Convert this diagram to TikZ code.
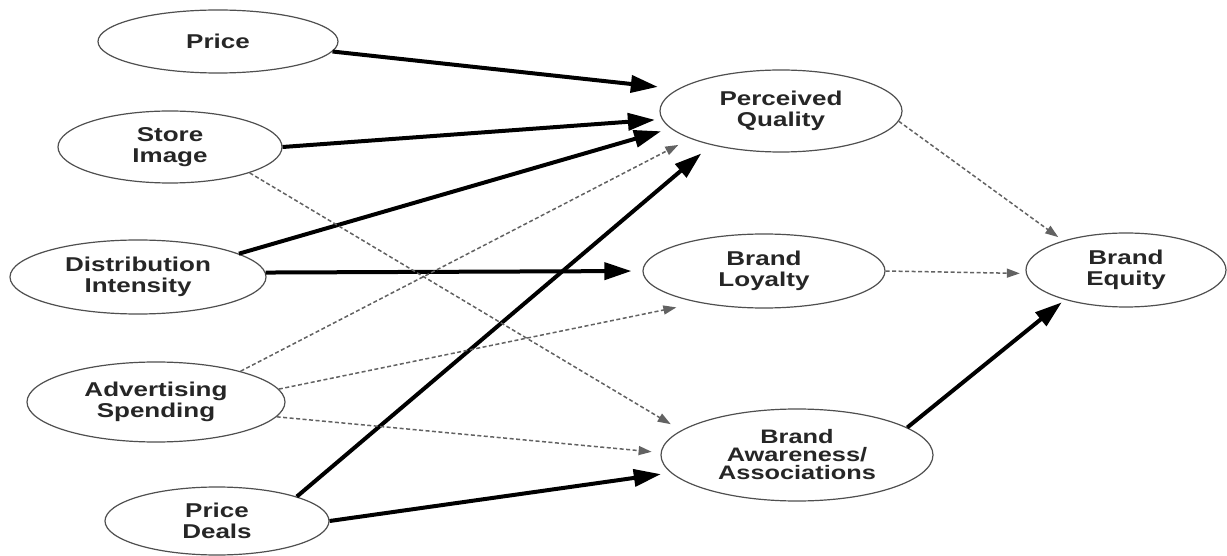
\documentclass[tikz,border=0pt]{standalone}
\usepackage{fontspec}
\newfontfamily\labelfont{Liberation Sans}[FakeStretch=1.3]
\usetikzlibrary{arrows.meta,shapes.geometric}

\definecolor{rim}{HTML}{4F4F4F}
\definecolor{ink}{HTML}{262626}
\definecolor{weak}{HTML}{626262}

\tikzset{
  construct/.style={ellipse, draw=rim, line width=1.2pt, fill=white,
    inner sep=0pt, text=ink, align=center,
    font=\labelfont\bfseries\fontsize{20}{20.5}\selectfont},
  strong/.style={draw=black, line width=4pt,
    -{Triangle[length=27pt,width=17pt]}},
  weaklink/.style={draw=weak, line width=1.5pt, dash pattern=on 4pt off 2.5pt,
    -{Triangle[length=13pt,width=9pt]}}
}

\begin{document}
\begin{tikzpicture}[x=1pt,y=1pt]
\useasboundingbox (0,0) rectangle (1227,555);

% antecedents
\node[construct, minimum width=240pt, minimum height=63pt] (price) at (218,513.5) {Price};
\node[construct, minimum width=224pt, minimum height=72pt] (store) at (170,408) {Store\\Image};
\node[construct, minimum width=256pt, minimum height=74pt] (dist)  at (138,278) {Distribution\\Intensity};
\node[construct, minimum width=258pt, minimum height=80pt] (adv)   at (156,153) {Advertising\\Spending};
\node[construct, minimum width=224pt, minimum height=68pt] (deals) at (217,34)  {Price\\Deals};

% brand equity dimensions
\node[construct, minimum width=242pt, minimum height=82pt] (pq) at (781,444) {Perceived\\Quality};
\node[construct, minimum width=242pt, minimum height=74pt] (bl) at (764,284) {Brand\\Loyalty};
\node[construct, minimum width=272pt, minimum height=92pt,
      font=\labelfont\bfseries\fontsize{19.5}{18}\selectfont] (ba) at (797,100) {Brand\\Awareness/\\Associations};

% outcome
\node[construct, minimum width=200pt, minimum height=74pt] (be) at (1126,285) {Brand\\Equity};

% significant paths
\draw[strong, shorten >=20pt] (price.-5)   -- (pq.168.4);
\draw[strong, shorten >=7pt]  (store.0)    -- (pq.184);
\draw[strong, shorten >=10pt] (dist.13.5)  -- (pq.189.4);
\draw[strong, shorten >=11pt] (dist.2.3)   -- (bl.180.5);
\draw[strong, shorten >=13pt] (deals.17.8) -- (pq.206);
\draw[strong, shorten >=10pt] (deals.0)    -- (ba.188);
\draw[strong, shorten >=4pt]  (ba.14.5)    -- (be.206.3);

% non-significant paths
\draw[weaklink, shorten >=13.5pt] (adv.20.2)    -- (pq.197.3);
\draw[weaklink, shorten >=12pt]   (store.-18.9) -- (ba.168.5);
\draw[weaklink, shorten >=23pt]   (adv.6.4)     -- (bl.206.2);
\draw[weaklink, shorten >=9pt]    (adv.-7.5)    -- (ba.179);
\draw[weaklink, shorten >=6pt]    (pq.-5)       -- (be.155);
\draw[weaklink, shorten >=6pt]    (bl.0)        -- (be.182);
\end{tikzpicture}
\end{document}
